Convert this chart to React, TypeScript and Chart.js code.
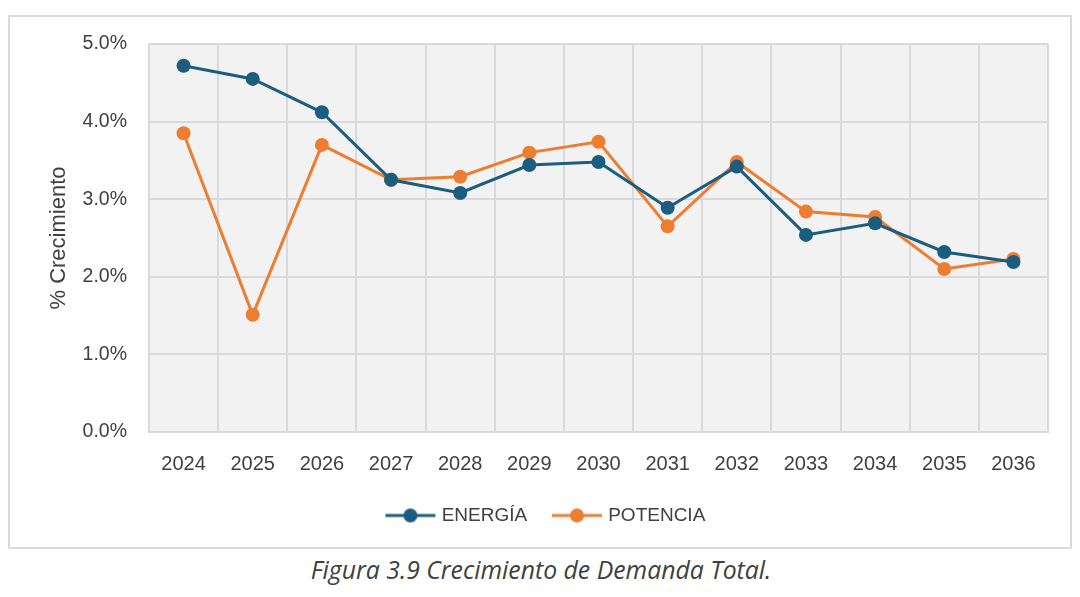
import React, { useEffect, useRef } from "react";
import { Chart, registerables } from "chart.js";

Chart.register(...registerables);

const years = ["2024", "2025", "2026", "2027", "2028", "2029", "2030", "2031", "2032", "2033", "2034", "2035", "2036"];
const energia = [4.72, 4.55, 4.12, 3.25, 3.08, 3.44, 3.48, 2.89, 3.42, 2.54, 2.69, 2.32, 2.19];
const potencia = [3.85, 1.51, 3.7, 3.25, 3.29, 3.6, 3.74, 2.65, 3.48, 2.84, 2.77, 2.1, 2.23];
const seriesNames = ["ENERGÍA", "POTENCIA"];
const yTitle = "% Crecimiento";
const caption = "Figura 3.9 Crecimiento de Demanda Total.";

const BLUE = "#1b5d7e";
const ORANGE = "#ed7d31";
const FONT = "'Liberation Sans', Arial, sans-serif";

// legend marker: a line with a dot, drawn offset inside a wider transparent image
function markerImage(color: string): HTMLCanvasElement {
  const c = document.createElement("canvas");
  c.width = 70;
  c.height = 16;
  const ctx = c.getContext("2d")!;
  ctx.strokeStyle = color;
  ctx.lineWidth = 3;
  ctx.beginPath();
  ctx.moveTo(19, 8);
  ctx.lineTo(69, 8);
  ctx.stroke();
  ctx.fillStyle = color;
  ctx.beginPath();
  ctx.arc(44, 8, 7, 0, Math.PI * 2);
  ctx.fill();
  return c;
}

const plotBg = {
  id: "plotBg",
  beforeDraw(chart: any) {
    const { ctx, chartArea } = chart;
    ctx.save();
    ctx.fillStyle = "#f2f2f2";
    ctx.fillRect(chartArea.left, chartArea.top, chartArea.right - chartArea.left, chartArea.bottom - chartArea.top);
    ctx.restore();
  },
};

export default function App() {
  const ref = useRef<HTMLCanvasElement | null>(null);

  useEffect(() => {
    document.body.style.margin = "0";
    const imgs = [markerImage(BLUE), markerImage(ORANGE)];
    const chart = new Chart(ref.current!, {
      type: "line",
      data: {
        labels: years,
        datasets: [
          {
            label: seriesNames[0],
            data: energia,
            borderColor: BLUE,
            backgroundColor: BLUE,
            borderWidth: 3,
            pointRadius: 7,
            pointHoverRadius: 7,
            pointBorderWidth: 0,
          },
          {
            label: seriesNames[1],
            data: potencia,
            borderColor: ORANGE,
            backgroundColor: ORANGE,
            borderWidth: 3,
            pointRadius: 7,
            pointHoverRadius: 7,
            pointBorderWidth: 0,
          },
        ],
      },
      options: {
        animation: false,
        responsive: false,
        maintainAspectRatio: false,
        layout: { padding: { left: 18, top: 27, right: 22, bottom: 12 } },
        elements: { line: { tension: 0 }, point: { pointStyle: "circle" } },
        plugins: {
          tooltip: { enabled: false },
          legend: {
            position: "bottom",
            labels: {
              usePointStyle: true,
              pointStyleWidth: 61.5,
              padding: 10,
              color: "#404040",
              font: { family: FONT, size: 19 },
              generateLabels: () =>
                seriesNames.map((n, i) => ({
                  text: n,
                  fillStyle: i === 0 ? BLUE : ORANGE,
                  strokeStyle: i === 0 ? BLUE : ORANGE,
                  lineWidth: 0,
                  pointStyle: imgs[i] as any,
                  datasetIndex: i,
                  hidden: false,
                  fontColor: "#404040",
                })),
            },
          },
        },
        scales: {
          x: {
            offset: true,
            grid: { offset: true, color: "#d9d9d9", lineWidth: 2, drawTicks: false },
            border: { display: true, color: "#d9d9d9", width: 2 },
            ticks: {
              padding: 20,
              color: "#404040",
              font: { family: FONT, size: 20 },
              maxRotation: 0,
            },
            afterFit: (s: any) => {
              s.height = 64;
            },
          },
          y: {
            min: 0,
            max: 5,
            grid: { color: "#d9d9d9", lineWidth: 2, drawTicks: false },
            border: { display: true, color: "#d9d9d9", width: 2 },
            ticks: {
              stepSize: 1,
              padding: 22,
              color: "#404040",
              font: { family: FONT, size: 19.5 },
              callback: (v: any) => Number(v).toFixed(1) + "%",
            },
            title: {
              display: true,
              text: yTitle,
              color: "#404040",
              padding: { top: 18, bottom: 0 },
              font: { family: FONT, size: 22, weight: "normal" },
            },
            afterFit: (s: any) => {
              s.width = 121;
              s.paddingTop = 0;
              s.paddingBottom = 0;
            },
          },
        },
      },
      plugins: [plotBg],
    });
    return () => chart.destroy();
  }, []);

  return (
    <div style={{ position: "relative", width: 1080, height: 597, background: "#fff" }}>
      <div
        style={{
          position: "absolute",
          left: 8,
          top: 15,
          width: 1064,
          height: 534,
          border: "2px solid #d9d9d9",
          boxSizing: "border-box",
        }}
      >
        <canvas ref={ref} width={1060} height={530} style={{ width: 1060, height: 530, display: "block" }} />
      </div>
      <div
        style={{
          position: "absolute",
          left: 0,
          top: 554,
          width: 1082,
          textAlign: "center",
          fontFamily: "'Open Sans', Lato, sans-serif",
          fontStyle: "italic",
          fontSize: 24.8,
          color: "#404040",
          lineHeight: "30px",
        }}
      >
        {caption}
      </div>
    </div>
  );
}
